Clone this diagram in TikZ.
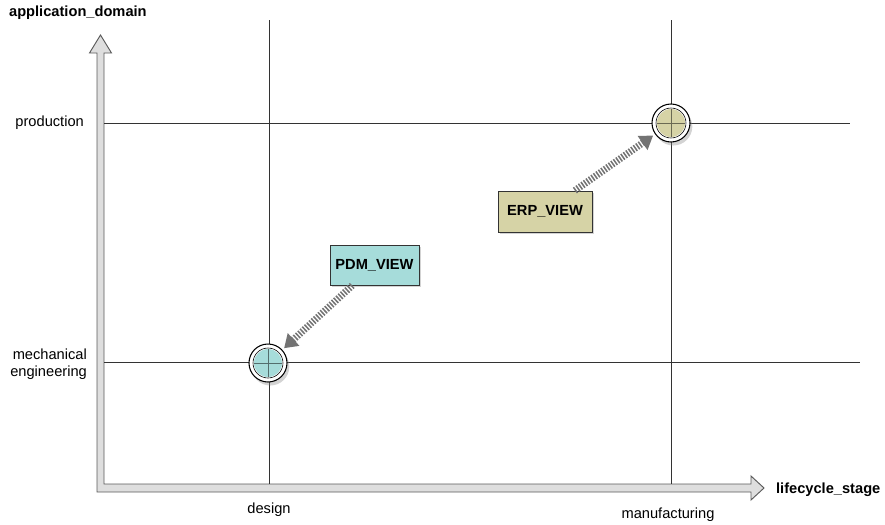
\documentclass[tikz,border=0pt]{standalone}
\usepackage{fontspec}
\setmainfont{Liberation Sans}
\usetikzlibrary{calc,arrows.meta,shadows}

\definecolor{pdmcol}{RGB}{166,220,218}
\definecolor{erpcol}{RGB}{214,211,166}
\definecolor{axisfill}{RGB}{222,222,222}
\definecolor{axisline}{RGB}{90,90,90}

\begin{document}
\begin{tikzpicture}[x=0.03cm,y=-0.03cm,
    font=\fontsize{12.5pt}{14.5pt}\selectfont,
    grid/.style={draw=black!80,line width=0.6pt},
    view/.style={draw=black!80,line width=0.8pt,font=\fontsize{12.5pt}{14.5pt}\selectfont\bfseries,
      drop shadow={opacity=0.35,shadow xshift=2pt,shadow yshift=-2pt}},
    point/.style={circle,draw=black,line width=0.9pt,minimum size=1.14cm,inner sep=0pt,fill=white,
      drop shadow={opacity=0.35,shadow xshift=2pt,shadow yshift=-3pt}},
    stripe/.style={line width=6pt,draw=black!55,dash pattern=on 1.3pt off 1.3pt,
      -{Triangle[length=11pt,width=14pt,fill=black!55]},shorten >=2pt}]
    \useasboundingbox (0,0) rectangle (885,524);

    % axes
    \coordinate (O) at (100.5,488);
    \coordinate (xend) at (764,488);
    \coordinate (yend) at (100.5,35);
    \filldraw[fill=axisfill,draw=axisline,line width=0.8pt]
      ($(O)+(-3.5,4)$) -- ($(O)+(-3.5,0)$) -- ($(yend)+(-3.5,18)$) -- ($(yend)+(-11,18)$) -- (yend)
      -- ($(yend)+(11,18)$) -- ($(yend)+(3.5,18)$) -- ($(O)+(3.5,-4)$)
      -- ($(xend)+(-13,-4)$) -- ($(xend)+(-13,-12)$) -- (xend) -- ($(xend)+(-13,12)$)
      -- ($(xend)+(-13,4)$) -- cycle;
    \node[anchor=west,font=\fontsize{12.5pt}{14.5pt}\selectfont\bfseries] (ylab) at (5,13) {application\_domain};
    \node[anchor=west,font=\fontsize{12.5pt}{14.5pt}\selectfont\bfseries] (xlab) at (772,490) {lifecycle\_stage};

    % grid
    \draw[grid] (269,20) -- (269,484);
    \draw[grid] (671,20) -- (671,484);
    \draw[grid] (104,123) -- (850,123);
    \draw[grid] (104,362) -- (860,362);

    \node[anchor=east] (prod) at (88,123) {production};
    \node[anchor=east,align=right] (mech) at (91,364) {mechanical\\engineering};
    \node (design) at (269,510) {design};
    \node (manu) at (668,515) {manufacturing};

    % points
    \node[point] (pdmc) at (268,363) {};
    \fill[pdmcol] (pdmc) circle (14);
    \draw[pdmcol!50!black,line width=0.5pt] ($(pdmc)+(-14,0)$) -- ($(pdmc)+(14,0)$) ($(pdmc)+(0,-14)$) -- ($(pdmc)+(0,14)$);
    \draw[line width=0.5pt] (pdmc) circle (15);
    \node[point] (erpc) at (671,123) {};
    \fill[erpcol] (erpc) circle (14);
    \draw[erpcol!50!black,line width=0.5pt] ($(erpc)+(-14,0)$) -- ($(erpc)+(14,0)$) ($(erpc)+(0,-14)$) -- ($(erpc)+(0,14)$);
    \draw[line width=0.5pt] (erpc) circle (15);

    % views
    \node[view,fill=pdmcol,minimum width=2.67cm,minimum height=1.2cm] (pdm) at (374.5,265) {PDM\_VIEW};
    \node[view,fill=erpcol,minimum width=2.82cm,minimum height=1.23cm] (erp) at (545,211.5) {ERP\_VIEW};

    \draw[stripe] (pdm) -- (pdmc);
    \draw[stripe] (erp) -- (erpc);
\end{tikzpicture}
\end{document}
